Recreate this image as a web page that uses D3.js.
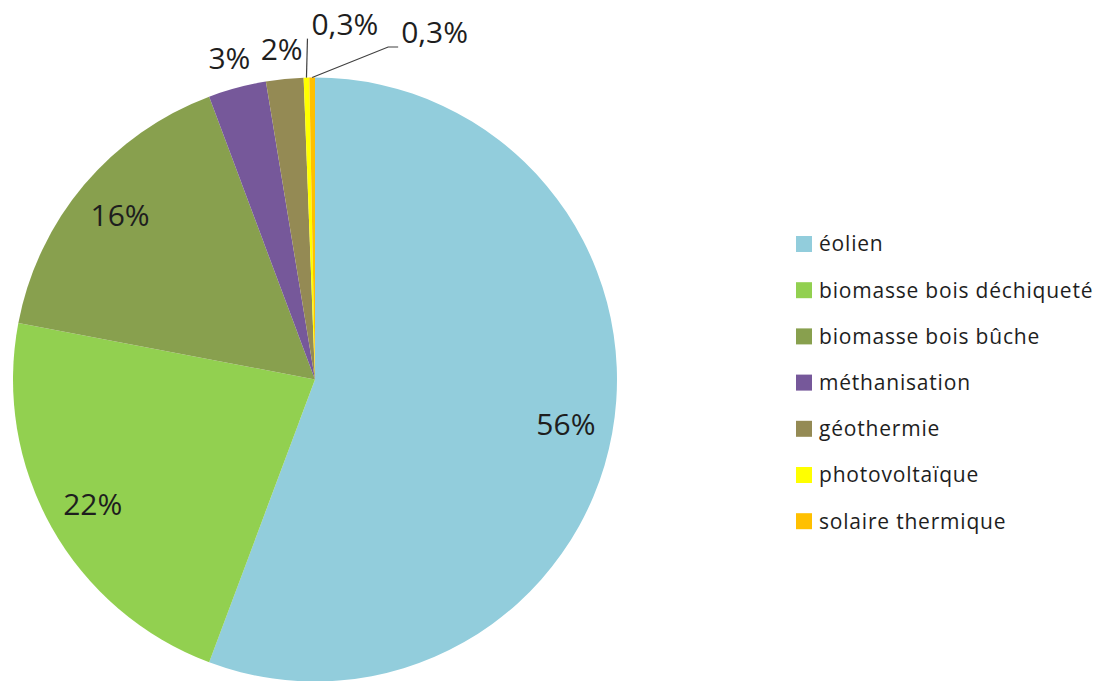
<!DOCTYPE html>
<html>
<head>
<meta charset="utf-8">
<script src="https://cdn.jsdelivr.net/npm/d3@7"></script>
<style>
  html, body { margin: 0; padding: 0; background: #fff; }
  svg { display: block; }
  text { font-family: "Open Sans", "DejaVu Sans", sans-serif; fill: #1e1e1e; }
</style>
</head>
<body>
<svg id="chart" width="1098" height="681"></svg>
<script>
// Parts of renewable energy production by source (%)
const categories = [
  "éolien",
  "biomasse bois déchiqueté",
  "biomasse bois bûche",
  "méthanisation",
  "géothermie",
  "photovoltaïque",
  "solaire thermique"
];
const shares = [55.7, 22.3, 16.3, 3.1, 2.0, 0.3, 0.3];
const shareLabels = ["56%", "22%", "16%", "3%", "2%", "0,3%", "0,3%"];
const colors = ["#92cddc", "#92d050", "#88a04e", "#76589a", "#948a54", "#ffff00", "#ffc000"];

const width = 1098, height = 681;
const cx = 315, cy = 379.5, radius = 302;

const svg = d3.select("#chart");
const g = svg.append("g").attr("transform", `translate(${cx},${cy})`);

const color = d3.scaleOrdinal().domain(categories).range(colors);

const pie = d3.pie().sort(null).value(d => d.value).startAngle(0).endAngle(2 * Math.PI);
const data = categories.map((c, i) => ({ name: c, value: shares[i], label: shareLabels[i] }));
const arcs = pie(data);

const arc = d3.arc().innerRadius(0).outerRadius(radius);

g.selectAll("path.slice")
  .data(arcs)
  .join("path")
  .attr("class", "slice")
  .attr("d", arc)
  .attr("fill", d => color(d.data.name));

const mid = d => (d.startAngle + d.endAngle) / 2;
const polar = (r, a) => [r * Math.sin(a), -r * Math.cos(a)];

// Large slices: label inside the wedge
const inner = arcs.filter(d => d.data.value >= 10);
g.selectAll("text.inner")
  .data(inner)
  .join("text")
  .attr("class", "inner")
  .attr("x", d => polar(255, mid(d))[0])
  .attr("y", d => polar(255, mid(d))[1])
  .attr("text-anchor", "middle")
  .attr("dy", "0.35em")
  .attr("font-size", 30)
  .text(d => d.data.label);

// Small slices: label just outside the rim
const outer = arcs.filter(d => d.data.value >= 1 && d.data.value < 10);
g.selectAll("text.outer")
  .data(outer)
  .join("text")
  .attr("class", "outer")
  .attr("x", d => polar(332, mid(d))[0])
  .attr("y", d => polar(332, mid(d))[1])
  .attr("text-anchor", "middle")
  .attr("dy", "0.35em")
  .attr("font-size", 30)
  .text(d => d.data.label);

// Tiny slices: labels lifted above the pie with leader lines
const tiny = arcs.filter(d => d.data.value < 1);
tiny.forEach((d, k) => {
  const [px, py] = polar(radius, mid(d));
  let pts, lx, ly;
  if (k === 0) {
    pts = [[px, py], [px + 1, py - 39]];
    lx = px + 5; ly = py - 43;
  } else {
    pts = [[px, py], [px + 76, py - 30.5], [px + 86, py - 30.5]];
    lx = px + 89; ly = py - 35;
  }
  g.append("path")
    .attr("d", d3.line()(pts))
    .attr("fill", "none")
    .attr("stroke", "#404040")
    .attr("stroke-width", 1.2);
  g.append("text")
    .attr("x", lx)
    .attr("y", ly)
    .attr("font-size", 30)
    .text(d.data.label);
});

// Legend
const legend = svg.append("g").attr("transform", "translate(796,236)");
const rowH = 46.2;
const item = legend.selectAll("g.item")
  .data(categories)
  .join("g")
  .attr("class", "item")
  .attr("transform", (d, i) => `translate(0,${i * rowH})`);
item.append("rect")
  .attr("width", 16)
  .attr("height", 16)
  .attr("fill", d => color(d));
item.append("text")
  .attr("x", 23)
  .attr("y", 8)
  .attr("dy", "0.35em")
  .attr("font-size", 21)
  .attr("letter-spacing", 0.8)
  .text(d => d);
</script>
</body>
</html>
